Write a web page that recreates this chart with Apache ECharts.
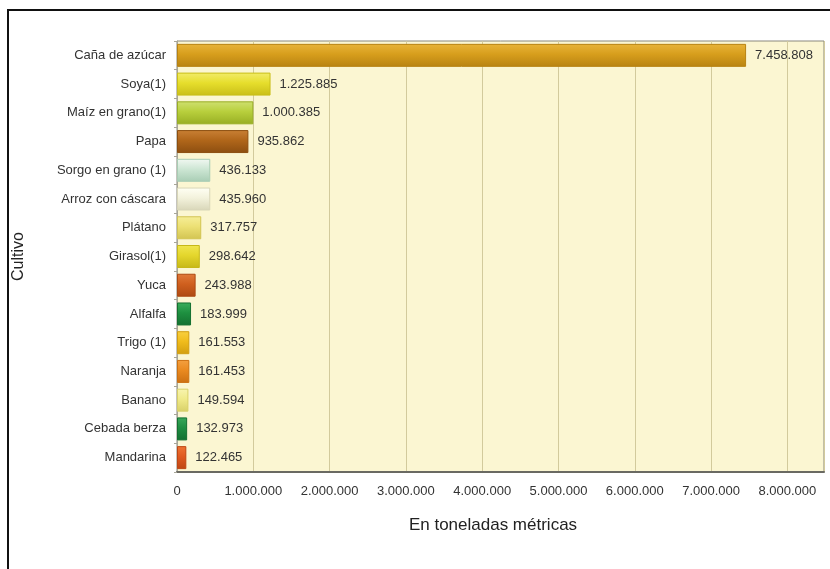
<!DOCTYPE html>
<html>
<head>
<meta charset="utf-8">
<script src="https://cdn.jsdelivr.net/npm/echarts@6/dist/echarts.min.js"></script>
<style>
html,body{margin:0;padding:0;background:#fff;}
#chart{width:830px;height:569px;}
</style>
</head>
<body>
<div id="chart"></div>
<script>
var categories = ['Caña de azúcar','Soya(1)','Maíz en grano(1)','Papa','Sorgo en grano (1)','Arroz con cáscara','Plátano','Girasol(1)','Yuca','Alfalfa','Trigo (1)','Naranja','Banano','Cebada berza','Mandarina'];
var values = [7458808,1225885,1000385,935862,436133,435960,317757,298642,243988,183999,161553,161453,149594,132973,122465];
var xTicks = [0,1000000,2000000,3000000,4000000,5000000,6000000,7000000,8000000];

var barColors = [
  ['#E8B43A','#D79E1C','#B88312'],
  ['#F2EC6A','#E6DE2C','#C9BE18'],
  ['#CFE070','#B8CF3C','#98AE24'],
  ['#C98035','#B0661A','#8C4E10'],
  ['#F2F8F2','#CDE6D4','#A8CDB4'],
  ['#FFFFF4','#F3F2DC','#D8D6B8'],
  ['#F6EE98','#ECE074','#D2C452'],
  ['#F0E650','#E4D62C','#C6B818'],
  ['#E07A3A','#CF5F1E','#AE4A12'],
  ['#3AAE5C','#1E9040','#147030'],
  ['#F8D040','#F0BC1C','#D29E10'],
  ['#F4A040','#EA8A20','#CC7012'],
  ['#F8F4B0','#F0EA8A','#D8D068'],
  ['#3AA85A','#1F8E42','#147032'],
  ['#EE7434','#E05A20','#BE4614']
];

function fmt(v){ return String(v).replace(/\B(?=(\d{3})+(?!\d))/g,'.'); }

var data = values.map(function(v,i){
  var c = barColors[i];
  return {
    value: v,
    itemStyle: {
      color: new echarts.graphic.LinearGradient(0,0,0,1,[
        {offset:0,color:c[0]},{offset:0.45,color:c[1]},{offset:1,color:c[2]}
      ]),
      borderColor: c[2],
      borderWidth: 1
    }
  };
});

var chart = echarts.init(document.getElementById('chart'));
chart.setOption({
  backgroundColor:'#ffffff',
  animation:false,
  graphic:[{
    type:'rect', z:100,
    shape:{x:8,y:10,width:840,height:600},
    style:{fill:'none',stroke:'#111',lineWidth:2}
  }],
  grid:{
    left:177, right:6, top:41, bottom:97,
    show:true, backgroundColor:'#FBF6D2', borderColor:'#8a887c', borderWidth:1
  },
  xAxis:{
    type:'value', min:0, max:8480000, interval:1000000,
    axisLine:{show:true,lineStyle:{color:'#6a6a62',width:2}},
    axisTick:{show:false},
    splitLine:{show:true,lineStyle:{color:'#D2CA9C',width:1}},
    axisLabel:{
      color:'#333', fontSize:13, fontFamily:'Liberation Sans, Arial', margin:13,
      showMaxLabel:false,
      formatter:function(v){ return xTicks.indexOf(v)>=0 ? fmt(v) : ''; }
    },
    name:'En toneladas métricas', nameLocation:'middle', nameGap:45,
    nameTextStyle:{color:'#222',fontSize:17,fontFamily:'Liberation Sans, Arial',padding:[0,15,0,0]}
  },
  yAxis:{
    type:'category', data:categories, inverse:true,
    axisLine:{show:true,lineStyle:{color:'#a8a698',width:1}},
    axisTick:{show:true,length:3,lineStyle:{color:'#a8a698'}},
    axisLabel:{color:'#333',fontSize:13,fontFamily:'Liberation Sans, Arial',margin:11},
    name:'Cultivo', nameLocation:'middle', nameGap:150, nameRotate:90,
    nameTextStyle:{color:'#222',fontSize:16,fontFamily:'Liberation Sans, Arial'}
  },
  series:[{
    type:'bar', data:data, barCategoryGap:'20%',
    label:{
      show:true, position:'right', distance:9,
      color:'#333', fontSize:13, fontFamily:'Liberation Sans, Arial',
      formatter:function(p){ return fmt(p.value); }
    }
  }]
});
</script>
</body>
</html>
